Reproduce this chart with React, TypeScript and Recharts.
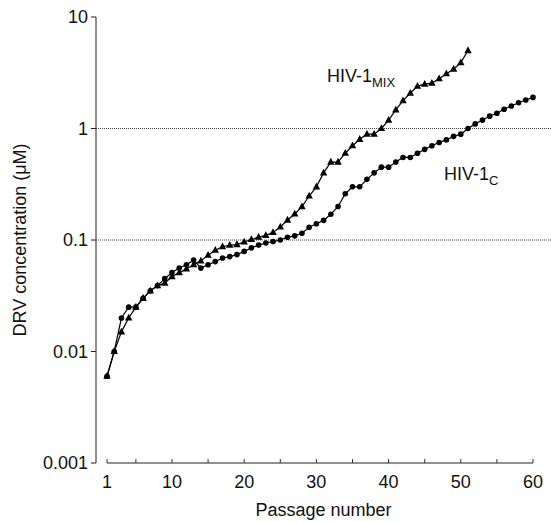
import React from 'react';
import { LineChart, Line, XAxis, YAxis, ReferenceLine, ReferenceDot } from 'recharts';

// DRV concentration (µM) per passage
const hiv1c = [
  0.006, 0.01, 0.02, 0.025, 0.025, 0.03, 0.035, 0.039, 0.045, 0.051,
  0.056, 0.06, 0.066, 0.056, 0.06, 0.064, 0.069, 0.071, 0.074, 0.079,
  0.085, 0.09, 0.094, 0.097, 0.1, 0.106, 0.109, 0.115, 0.13, 0.14,
  0.15, 0.17, 0.2, 0.26, 0.3, 0.3, 0.35, 0.4, 0.45, 0.45,
  0.5, 0.55, 0.55, 0.6, 0.65, 0.7, 0.75, 0.79, 0.85, 0.89,
  1.0, 1.1, 1.19, 1.29, 1.37, 1.49, 1.59, 1.7, 1.8, 1.9,
];
const hiv1mix = [
  0.006, 0.01, 0.015, 0.02, 0.025, 0.03, 0.035, 0.039, 0.041, 0.047,
  0.051, 0.055, 0.06, 0.065, 0.073, 0.081, 0.087, 0.09, 0.091, 0.096,
  0.101, 0.106, 0.11, 0.117, 0.131, 0.151, 0.171, 0.199, 0.248, 0.3,
  0.4, 0.5, 0.5, 0.6, 0.7, 0.8, 0.89, 0.89, 1.0, 1.19,
  1.47, 1.78, 2.07, 2.4, 2.5, 2.55, 2.8, 3.1, 3.4, 3.9,
  5.0,
];
const xTicks = [1, 5, 10, 15, 20, 25, 30, 35, 40, 45, 50, 55, 60];
const yTicks = [0.001, 0.01, 0.1, 1, 10];
const gridLevels = [0.1, 1];

const data = hiv1c.map((v, i) => ({ passage: i + 1, c: v, mix: i < hiv1mix.length ? hiv1mix[i] : null }));

const font = '"Liberation Sans", Arial, Helvetica, sans-serif';

const TriangleDot = (props: any) => {
  const { cx, cy, index } = props;
  if (cx == null || cy == null) return <g key={`t-${index}`} />;
  return (
    <path
      key={`t-${index}`}
      d={`M${cx},${cy - 4.2}L${cx + 3.7},${cy + 2.6}L${cx - 3.7},${cy + 2.6}Z`}
      fill="#000"
    />
  );
};

const seriesLabel = (main: string, sub: string) => (props: any) => {
  const { viewBox } = props;
  return (
    <text x={viewBox.x} y={viewBox.y} fontSize={18} fontFamily={font} fill="#111">
      {main}
      <tspan fontSize={13} dy={5}>{sub}</tspan>
    </text>
  );
};

const App: React.FC = () => {
  return (
    <div style={{ position: 'absolute', left: 0, top: 0, width: 551, height: 522, background: '#fff' }}>
      <LineChart width={551} height={522} data={data} margin={{ top: 17, right: 0, bottom: 0, left: 0 }}>
        <XAxis
          dataKey="passage"
          type="number"
          domain={[-0.5235, 62.493]}
          allowDataOverflow
          ticks={xTicks}
          tickFormatter={(v: number) => (v === 1 || v % 10 === 0 ? String(v) : '')}
          axisLine={false}
          tickLine={{ stroke: '#333' }}
          tickSize={-4}
          tickMargin={16}
          height={59}
          tick={{ fontSize: 18, fill: '#111', fontFamily: font }}
          label={{ value: 'Passage number', position: 'insideBottom', offset: 6, fontSize: 18, fill: '#111', fontFamily: font }}
        />
        <YAxis
          type="number"
          scale="log"
          domain={[0.001, 10]}
          allowDataOverflow
          ticks={yTicks}
          tickFormatter={(v: number) => String(v)}
          width={96}
          axisLine={{ stroke: '#222' }}
          tickLine={{ stroke: '#222' }}
          tickSize={5}
          tickMargin={3}
          tick={{ fontSize: 18, fill: '#111', fontFamily: font }}
          label={{
            value: 'DRV concentration (\u03bcM)',
            angle: -90,
            position: 'insideLeft',
            offset: 20,
            fontSize: 18,
            fill: '#111',
            fontFamily: font,
            style: { textAnchor: 'middle' },
          }}
        />
        {gridLevels.map((g) => (
          <ReferenceLine key={g} y={g} stroke="#444" strokeDasharray="1 1" strokeWidth={1} />
        ))}
        <ReferenceLine
          segment={[{ x: 1, y: 0.001 }, { x: 60, y: 0.001 }]}
          stroke="#222"
          strokeWidth={1}
        />
        <Line
          type="linear"
          dataKey="c"
          stroke="#000"
          strokeWidth={1.2}
          dot={{ r: 2.8, fill: '#000', stroke: '#000', strokeWidth: 0 }}
          isAnimationActive={false}
        />
        <Line
          type="linear"
          dataKey="mix"
          stroke="#000"
          strokeWidth={1.2}
          dot={TriangleDot}
          connectNulls={false}
          isAnimationActive={false}
        />
        <ReferenceDot x={31.47} y={2.6} r={0} label={{ content: seriesLabel('HIV-1', 'MIX') }} />
        <ReferenceDot x={47.68} y={0.345} r={0} label={{ content: seriesLabel('HIV-1', 'C') }} />
      </LineChart>
    </div>
  );
};

export default App;
